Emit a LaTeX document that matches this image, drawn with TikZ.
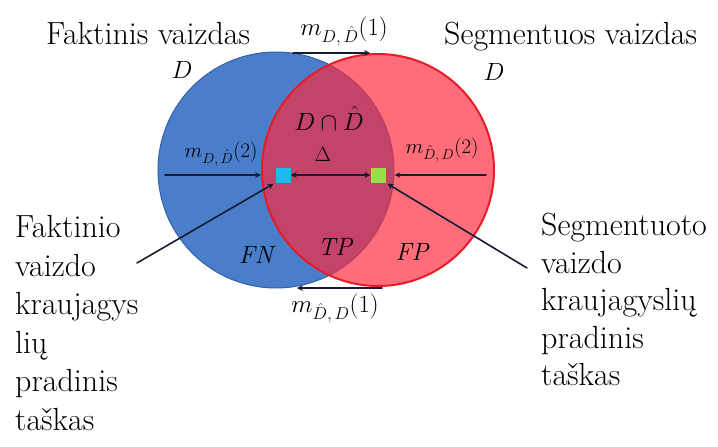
\documentclass[tikz,border=0pt]{standalone}
\definecolor{faktblue}{RGB}{74,126,202}
\definecolor{faktedge}{RGB}{52,98,170}
\definecolor{segred}{RGB}{255,40,60}
\definecolor{segedge}{RGB}{232,28,40}
\definecolor{inkline}{RGB}{22,28,50}
\definecolor{startcyan}{RGB}{30,185,240}
\definecolor{startgreen}{RGB}{150,225,70}
\begin{document}
\begin{tikzpicture}[x=1pt, y=-1pt, line cap=round, line join=round, >=stealth, inner sep=0pt, font=\fontsize{32}{38.6}\selectfont]
	\tikzset{mlabel/.style={font=\fontsize{24}{28}\selectfont, anchor=base},
		slabel/.style={font=\fontsize{21}{24}\selectfont, anchor=base},
		region/.style={font=\fontsize{25}{30}\selectfont\itshape, anchor=base},
		startpt/.style={minimum size=15pt},
		conn/.style={draw=inkline, line width=1.6pt}}
	\useasboundingbox (0,0) rectangle (718,447);
	\node[circle, minimum size=236pt, fill=faktblue, draw=faktedge, line width=1pt] (fakt) at (276,170) {};
	\node[circle, minimum size=232pt, fill=segred, fill opacity=0.68, draw=segedge, line width=2pt] (seg) at (378,170) {};
	\node[anchor=base west] (fakttitle) at (46,45) {Faktinis vaizdas};
	\node[anchor=base] (faktD) at (182,78) {$D$};
	\node[anchor=base west] (segtitle) at (444,44) {Segmentuos vaizdas};
	\node[anchor=base] (segD) at (494,80) {$D$};
	\node[anchor=base, font=\fontsize{26}{30}\selectfont] (inter) at (329,130) {$D\cap\hat D$};
	\node[anchor=base, font=\fontsize{22}{26}\selectfont] (delta) at (323,161) {$\Delta$};
	\node[region] (fn) at (256,263) {FN};
	\node[region] (tp) at (335,255) {TP};
	\node[region] (fp) at (412,260) {FP};
	\node[startpt, fill=startcyan] (fstart) at (283,175) {};
	\node[startpt, fill=startgreen] (sstart) at (378,175) {};
	\draw[conn, <->] (fstart) -- (sstart);
	\coordinate (ltail) at (165,175);
	\coordinate (rtail) at (486,175);
	\draw[conn, ->] (ltail) -- (ltail -| seg.west);
	\draw[conn, ->] (rtail) -- (rtail -| fakt.east);
	\node[slabel] (llab) at (221,157) {$m_{D,\,\hat D}(2)$};
	\node[slabel] (rlab) at (442,153) {$m_{\hat D,\,D}(2)$};
	\coordinate (ttail) at (293,53);
	\coordinate (thead) at (370,53);
	\draw[conn, ->] (ttail) -- (thead);
	\node[mlabel] (tlab) at (344,35) {$m_{D,\,\hat D}(1)$};
	\coordinate (btail) at (382,288);
	\coordinate (bhead) at (297,288);
	\draw[conn, ->] (btail) -- (bhead);
	\node[mlabel] (blab) at (335,312) {$m_{\hat D,\,D}(1)$};
	\node[anchor=north west, align=left] (fnotetext) at (15,215) {Faktinio\\vaizdo\\kraujagys\\lių\\pradinis\\taškas};
	\node[anchor=north west, align=left, font=\fontsize{32}{37.5}\selectfont] (snotetext) at (541,213) {Segmentuoto\\vaizdo\\kraujagyslių\\pradinis\\taškas};
	\coordinate (fnote) at (137,263);
	\coordinate (snote) at (527,268);
	\draw[conn, ->, shorten >=2pt] (fnote) -- (fstart.south west);
	\draw[conn, ->, shorten >=2pt] (snote) -- (sstart.south east);
\end{tikzpicture}
\end{document}
